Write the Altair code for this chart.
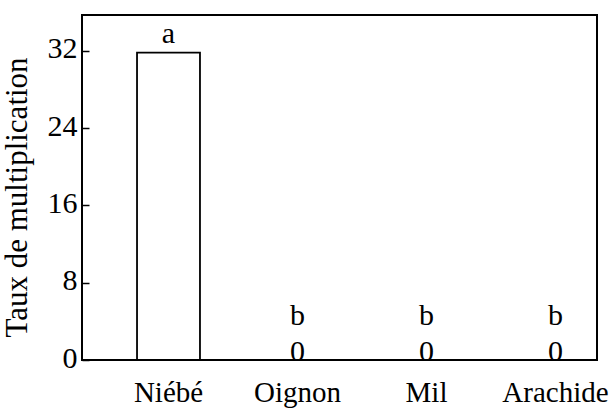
import altair as alt
import pandas as pd

categories = ["Niébé", "Oignon", "Mil", "Arachide"]
values = [31.8, 0, 0, 0]
letters = ["a", "b", "b", "b"]
y_ticks = [0, 8, 16, 24, 32]

df = pd.DataFrame({"cat": categories, "val": values, "letter": letters})

FONT = "'Liberation Serif', 'Times New Roman', Times, serif"

x = alt.X(
    "cat:N",
    sort=categories,
    title=None,
    scale=alt.Scale(range=[22, 538], paddingInner=0.512, paddingOuter=0.256),
    axis=alt.Axis(
        labelAngle=0, ticks=False, domain=False, labelFont=FONT, labelFontSize=29,
        labelColor="black", labelPadding=18, labelBaseline="top",
    ),
)
y = alt.Y(
    "val:Q",
    title="Taux de multiplication",
    scale=alt.Scale(domain=[0, 35.7], nice=False, zero=True),
    axis=alt.Axis(
        values=y_ticks, grid=False, domain=False, tickSize=7, offset=-7,
        tickColor="black", tickWidth=1.5, labelFont=FONT, labelFontSize=30,
        labelColor="black", labelPadding=5, labelBaseline="middle", labelOffset=-2,
        titleFont=FONT, titleFontSize=31, titleFontWeight="normal", titleColor="black",
        titlePadding=14, titleY=182,
    ),
)

bars = alt.Chart(df).mark_bar(fill="white", stroke="black", strokeWidth=1.8).encode(x=x, y=y)

top_letters = alt.Chart(df).transform_filter("datum.val > 0").mark_text(
    font=FONT, fontSize=30, baseline="alphabetic", dy=-10, color="black"
).encode(x=x, y=y, text="letter:N")

zero_labels = alt.Chart(df).transform_filter("datum.val == 0").transform_calculate(
    lbl="datum.letter + '\\n' + format(datum.val, 'd')"
).mark_text(
    font=FONT, fontSize=30, baseline="alphabetic", dy=-35, lineBreak="\n", lineHeight=36, color="black"
).encode(x=x, y=y, text="lbl:N")

chart = alt.layer(bars, top_letters, zero_labels).properties(
    width=515, height=345,
    autosize=alt.AutoSizeParams(type="none"),
    padding={"left": 82, "top": 15, "right": 12, "bottom": 50},
).configure(
    background="white",
    view=alt.ViewConfig(stroke="black", strokeWidth=2),
)

chart.save("out.html", embed_options={"renderer": "svg", "actions": False})
